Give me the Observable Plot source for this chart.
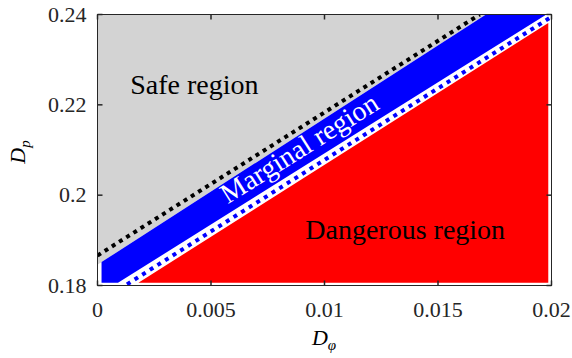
<!DOCTYPE html>
<html><head><meta charset="utf-8">
<script src="https://cdn.jsdelivr.net/npm/d3@7"></script>
<script src="https://cdn.jsdelivr.net/npm/@observablehq/plot@0.6"></script>
<style>body{margin:0;background:#fff}</style>
</head><body><div id="chart"></div>
<script>
// ---- data ----
const xDomain = [0, 0.02];
const yDomain = [0.18, 0.24];
const xTicks = [0, 0.005, 0.01, 0.015, 0.02];
const xTickLabels = ["0", "0.005", "0.01", "0.015", "0.02"];
const yTicks = [0.18, 0.2, 0.22, 0.24];
const yTickLabels = ["0.18", "0.2", "0.22", "0.24"];

// boundary lines: endpoints [D_phi], [D_p]
const safeLinePhi = [0, 0.01684];
const safeLineP = [0.18664, 0.24];
const marginalTopPhi = [0, 0.01717];
const marginalTopP = [0.18443, 0.24];
const marginalBottomPhi = [0.000925, 0.019515];
const marginalBottomP = [0.1805, 0.2390];
const dangerTopPhi = [0.001806, 0.01987];
const dangerTopP = [0.18044, 0.2380];
const dangerLinePhi = [0.0013, 0.01991];
const dangerLineP = [0.18026, 0.2392];
// extent of the computed region grid
const gridPhi = [0.0002, 0.01988];
const gridP = [0.1805, 0.24];

const regionLabels = ["Safe region", "Marginal region", "Dangerous region"];
const labelPhi = [0.00427, 0.0089, 0.013555];
const labelP = [0.2225, 0.2103, 0.19034];

// ---- helpers ----
const lineFn = (xs, ys) => x => ys[0] + (x - xs[0]) * (ys[1] - ys[0]) / (xs[1] - xs[0]);
const inv = (xs, ys, y) => xs[0] + (y - ys[0]) * (xs[1] - xs[0]) / (ys[1] - ys[0]);
function band(xr, lower, upper, yr) {
  const bp = [xr[0], xr[1]];
  for (const L of [lower, upper]) if (L) for (const b of yr) {
    const x = inv(L[0], L[1], b);
    if (x > xr[0] && x < xr[1]) bp.push(x);
  }
  bp.sort((a, b) => a - b);
  const clamp = v => Math.min(Math.max(v, yr[0]), yr[1]);
  return bp.map(x => {
    const y1 = clamp(lower ? lineFn(...lower)(x) : yr[0]);
    const y2 = Math.max(y1, clamp(upper ? lineFn(...upper)(x) : yr[1]));
    return {x, y1, y2};
  });
}
const seg = (xs, ys) => xs.map((x, i) => ({x, y: ys[i]}));

const grayArea = band(xDomain, [marginalTopPhi, marginalTopP], null, yDomain);
const blueArea = band(gridPhi, [marginalBottomPhi, marginalBottomP], [marginalTopPhi, marginalTopP], gridP);
const redArea = band(gridPhi, null, [dangerTopPhi, dangerTopP], gridP);

const tickSym = (dx, dy) => ({draw(ctx) { ctx.moveTo(0, 0); ctx.lineTo(dx, dy); }});
const axisColor = "#262626";
const font = "Liberation Serif, Times New Roman, serif";

const chart = Plot.plot({
  width: 572, height: 358,
  marginLeft: 97, marginRight: 21, marginTop: 14, marginBottom: 73,
  style: "font-family: 'Liberation Serif', serif; background: white; color: #262626;",
  x: {domain: xDomain},
  y: {domain: yDomain},
  marks: [
    Plot.areaY(grayArea, {x: "x", y1: "y1", y2: "y2", fill: "#d3d3d3"}),
    Plot.areaY(blueArea, {x: "x", y1: "y1", y2: "y2", fill: "#0000ff"}),
    Plot.areaY(redArea, {x: "x", y1: "y1", y2: "y2", fill: "#ff0000"}),
    Plot.line(seg(safeLinePhi, safeLineP), {x: "x", y: "y", stroke: "black", strokeWidth: 4, strokeDasharray: "4,4.5", strokeLinecap: "butt", clip: true}),
    Plot.line(seg(dangerLinePhi, dangerLineP), {x: "x", y: "y", stroke: "#0000ff", strokeWidth: 4, strokeDasharray: "4,5", strokeLinecap: "butt", clip: true}),
    Plot.text([0], {x: i => labelPhi[i], y: i => labelP[i], text: i => regionLabels[i], fontFamily: font, fontSize: 28, fill: "black", textAnchor: "middle", lineAnchor: "bottom"}),
    Plot.text([1], {x: i => labelPhi[i], y: i => labelP[i], text: i => regionLabels[i], fontFamily: font, fontSize: 28, fill: "white", textAnchor: "middle", lineAnchor: "middle", rotate: -32.2}),
    Plot.text([2], {x: i => labelPhi[i], y: i => labelP[i], text: i => regionLabels[i], fontFamily: font, fontSize: 28, fill: "black", textAnchor: "middle", lineAnchor: "bottom"}),
    Plot.axisX(xTicks, {anchor: "bottom", tickSize: 0, tickPadding: 16, fontSize: 22, fontFamily: font, fill: axisColor, tickFormat: d => xTickLabels[xTicks.indexOf(d)], label: null}),
    Plot.axisY(yTicks, {anchor: "left", tickSize: 0, tickPadding: 11, fontSize: 22, fontFamily: font, fill: axisColor, tickFormat: d => yTickLabels[yTicks.indexOf(d)], label: null}),
    Plot.dot(xTicks, {x: d => d, y: () => yDomain[0], symbol: tickSym(0, -5), stroke: axisColor, fill: "none", r: 5}),
    Plot.dot(xTicks, {x: d => d, y: () => yDomain[1], symbol: tickSym(0, 5), stroke: axisColor, fill: "none", r: 5}),
    Plot.dot(yTicks, {x: () => xDomain[0], y: d => d, symbol: tickSym(5, 0), stroke: axisColor, fill: "none", r: 5}),
    Plot.dot(yTicks, {x: () => xDomain[1], y: d => d, symbol: tickSym(-5, 0), stroke: axisColor, fill: "none", r: 5}),
    Plot.frame({stroke: axisColor, strokeWidth: 1})
  ]
});

const svg = d3.select(chart);
// x-axis label D_phi
const xl = svg.append("text").attr("x", 324).attr("y", 345).attr("text-anchor", "middle")
  .attr("font-family", font).attr("font-size", 22).attr("fill", "black");
xl.append("tspan").attr("font-style", "italic").text("D");
xl.append("tspan").attr("font-style", "italic").attr("font-size", 15).attr("dy", 5).text("φ");
// y-axis label D_p
const yl = svg.append("text").attr("transform", "translate(25,152) rotate(-90)").attr("text-anchor", "middle")
  .attr("font-family", font).attr("font-size", 22).attr("fill", "black");
yl.append("tspan").attr("font-style", "italic").text("D");
yl.append("tspan").attr("font-style", "italic").attr("font-size", 15).attr("dy", 5).text("p");

document.getElementById("chart").appendChild(chart);
</script>
</body></html>
